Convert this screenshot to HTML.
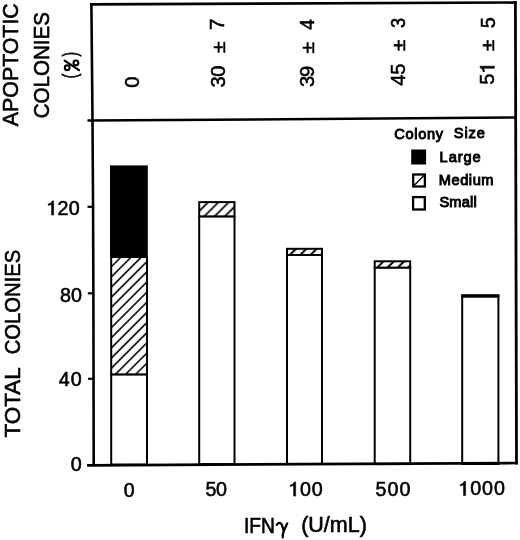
<!DOCTYPE html>
<html><head><meta charset="utf-8">
<style>
html,body{margin:0;padding:0;background:#fff;width:520px;height:540px;overflow:hidden}
svg{display:block;filter:grayscale(1)}
text{font-family:"Liberation Sans",sans-serif;fill:#000}
</style></head>
<body>
<svg width="520" height="540" viewBox="0 0 520 540">
<defs>
<pattern id="h0" patternUnits="userSpaceOnUse" width="7.1771" height="20" patternTransform="rotate(45)"><rect x="1.028" y="0" width="1.55" height="20" fill="#000"/></pattern>
<pattern id="h1" patternUnits="userSpaceOnUse" width="7.2832" height="20" patternTransform="rotate(45)"><rect x="5.231" y="0" width="1.7" height="20" fill="#000"/></pattern>
<pattern id="h2" patternUnits="userSpaceOnUse" width="7.2832" height="20" patternTransform="rotate(45)"><rect x="5.576" y="0" width="2.0" height="20" fill="#000"/><rect x="-1.707" y="0" width="2.0" height="20" fill="#000"/></pattern>
<pattern id="h3" patternUnits="userSpaceOnUse" width="7.2832" height="20" patternTransform="rotate(45)"><rect x="3.384" y="0" width="2.0" height="20" fill="#000"/></pattern>
</defs>
<rect width="520" height="540" fill="#fff"/>

<!-- bars -->
<g stroke="#000" stroke-width="2">
<!-- bar 0 -->
<rect x="111.2" y="257" width="35.8" height="117.6" fill="url(#h0)"/>
<rect x="111.2" y="374.6" width="35.8" height="90" fill="#fff"/>
<rect x="110.0" y="165.4" width="37.8" height="91.7" fill="#000" stroke="none"/>
<!-- bar 50 -->
<rect x="199.2" y="202.1" width="35.3" height="14.5" fill="url(#h1)"/>
<rect x="199.2" y="216.6" width="35.3" height="247.5" fill="#fff"/>
<!-- bar 100 -->
<rect x="287" y="248.8" width="35" height="6.2" fill="url(#h2)"/>
<rect x="287" y="255" width="35" height="209" fill="#fff"/>
<!-- bar 500 -->
<rect x="374.7" y="261.3" width="35.5" height="6.5" fill="url(#h3)"/>
<rect x="374.7" y="267.8" width="35.5" height="196.3" fill="#fff"/>
<!-- bar 1000 -->
<rect x="462.2" y="296" width="36.2" height="168" fill="#fff"/>
</g>
<rect x="461.2" y="294.2" width="38.2" height="3.5" fill="#000"/>

<!-- frame -->
<g stroke="#000" fill="none" stroke-linecap="square">
<polyline points="91.4,4.6 92.5,120 93.05,207 93.4,300 93.7,465" stroke-width="2.6" stroke-linejoin="round"/>
<line x1="91.3" y1="4.4" x2="515.4" y2="2.5" stroke-width="2.7"/>
<line x1="515.4" y1="2.5" x2="516.5" y2="463" stroke-width="2.8"/>
<line x1="88.5" y1="465.3" x2="516.5" y2="463" stroke-width="2.7"/>
<line x1="87.5" y1="120.6" x2="515.5" y2="117.5" stroke-width="2.5" stroke-linecap="butt"/>
<line x1="87.5" y1="206.8" x2="93" y2="206.8" stroke-width="2.2" stroke-linecap="butt"/>
<line x1="87.8" y1="293.3" x2="93.3" y2="293.3" stroke-width="2.2" stroke-linecap="butt"/>
<line x1="88" y1="378.8" x2="93.5" y2="378.8" stroke-width="2.2" stroke-linecap="butt"/>
</g>


<g transform="translate(46.20,215.04)"><text x="0.00 11.26 22.52" y="0" font-size="19.7" stroke="#000" stroke-width="0.55"> 20</text><path transform="translate(0.00,0) scale(19.7)" d="M0.378,0 L0.378,-0.716 L0.300,-0.716 C0.285,-0.660 0.250,-0.610 0.190,-0.585 C0.160,-0.573 0.130,-0.566 0.105,-0.563 L0.105,-0.490 C0.160,-0.495 0.225,-0.510 0.272,-0.548 L0.272,0 Z" fill="#000" stroke="#000" stroke-width="0.0279" stroke-linejoin="round"/></g>
<g transform="translate(59.90,302.30)"><text x="0.00 11.18" y="0" font-size="19.7" stroke="#000" stroke-width="0.55">80</text></g>
<g transform="translate(58.82,386.22)"><text x="0.00 11.98" y="0" font-size="19.7" stroke="#000" stroke-width="0.55">40</text></g>
<text transform="translate(70.64,471.46)" font-size="19.7" stroke="#000" stroke-width="0.55" textLength="11.00" lengthAdjust="spacingAndGlyphs">0</text>
<text transform="translate(123.74,496.66)" font-size="19.7" stroke="#000" stroke-width="0.55" textLength="10.84" lengthAdjust="spacingAndGlyphs">0</text>
<g transform="translate(205.58,496.26)"><text x="0.00 10.54" y="0" font-size="19.7" stroke="#000" stroke-width="0.55">50</text></g>
<g transform="translate(288.24,496.10)"><text x="0.00 11.74 23.48" y="0" font-size="19.7" stroke="#000" stroke-width="0.55"> 00</text><path transform="translate(0.00,0) scale(19.7)" d="M0.378,0 L0.378,-0.716 L0.300,-0.716 C0.285,-0.660 0.250,-0.610 0.190,-0.585 C0.160,-0.573 0.130,-0.566 0.105,-0.563 L0.105,-0.490 C0.160,-0.495 0.225,-0.510 0.272,-0.548 L0.272,0 Z" fill="#000" stroke="#000" stroke-width="0.0279" stroke-linejoin="round"/></g>
<g transform="translate(375.60,495.98)"><text x="0.00 11.90 23.80" y="0" font-size="19.7" stroke="#000" stroke-width="0.55">500</text></g>
<g transform="translate(458.16,495.48)"><text x="0.00 11.98 23.96 35.94" y="0" font-size="19.7" stroke="#000" stroke-width="0.55"> 000</text><path transform="translate(0.00,0) scale(19.7)" d="M0.378,0 L0.378,-0.716 L0.300,-0.716 C0.285,-0.660 0.250,-0.610 0.190,-0.585 C0.160,-0.573 0.130,-0.566 0.105,-0.563 L0.105,-0.490 C0.160,-0.495 0.225,-0.510 0.272,-0.548 L0.272,0 Z" fill="#000" stroke="#000" stroke-width="0.0279" stroke-linejoin="round"/></g>
<text transform="translate(243.88,533.48)" font-size="21.5" stroke="#000" stroke-width="0.6" textLength="30.98" lengthAdjust="spacingAndGlyphs">IFN</text>
<text transform="translate(301.20,532.20)" font-size="21.5" stroke="#000" stroke-width="0.6" textLength="65.60" lengthAdjust="spacingAndGlyphs">(U/mL)</text>
<text transform="translate(19.92,437.42) rotate(-90)" font-size="22.2" stroke="#000" stroke-width="0.6" textLength="70.16" lengthAdjust="spacingAndGlyphs">TOTAL</text>
<text transform="translate(19.92,354.34) rotate(-90)" font-size="22.2" stroke="#000" stroke-width="0.6" textLength="104.68" lengthAdjust="spacingAndGlyphs">COLONIES</text>
<text transform="translate(17.68,126.14) rotate(-90)" font-size="22.8" stroke="#000" stroke-width="0.6" textLength="122.88" lengthAdjust="spacingAndGlyphs">APOPTOTIC</text>
<text transform="translate(48.76,118.34) rotate(-90)" font-size="22.8" stroke="#000" stroke-width="0.6" textLength="106.28" lengthAdjust="spacingAndGlyphs">COLONIES</text>
<text transform="translate(77.12,78.28) rotate(-90)" font-size="19.5" stroke="#000" stroke-width="0.85" textLength="4.46" lengthAdjust="spacingAndGlyphs">(</text>
<text transform="translate(76.52,56.36) rotate(-90)" font-size="19.5" stroke="#000" stroke-width="0.85" textLength="4.14" lengthAdjust="spacingAndGlyphs">)</text>
<text transform="translate(139.18,87.70) rotate(-90)" font-size="20.1" stroke="#000" stroke-width="0.55" textLength="11.34" lengthAdjust="spacingAndGlyphs">0</text>
<g transform="translate(224.66,87.40) rotate(-90)"><text x="0.00 10.70" y="0" font-size="20.1" stroke="#000" stroke-width="0.55">30</text></g>
<text transform="translate(224.66,53.00) rotate(-90)" font-size="18.3" stroke="#000" stroke-width="0.55" textLength="11.50" lengthAdjust="spacingAndGlyphs">&#177;</text>
<text transform="translate(224.26,30.12) rotate(-90)" font-size="20.1" stroke="#000" stroke-width="0.55" textLength="11.48" lengthAdjust="spacingAndGlyphs">7</text>
<g transform="translate(313.92,86.94) rotate(-90)"><text x="0.00 10.06" y="0" font-size="20.1" stroke="#000" stroke-width="0.55">39</text></g>
<text transform="translate(313.60,53.50) rotate(-90)" font-size="18.3" stroke="#000" stroke-width="0.55" textLength="11.50" lengthAdjust="spacingAndGlyphs">&#177;</text>
<text transform="translate(313.52,29.68) rotate(-90)" font-size="20.1" stroke="#000" stroke-width="0.55" textLength="10.52" lengthAdjust="spacingAndGlyphs">4</text>
<g transform="translate(404.76,85.86) rotate(-90)"><text x="0.00 11.18" y="0" font-size="20.1" stroke="#000" stroke-width="0.55">45</text></g>
<text transform="translate(404.84,50.96) rotate(-90)" font-size="18.3" stroke="#000" stroke-width="0.55" textLength="11.34" lengthAdjust="spacingAndGlyphs">&#177;</text>
<text transform="translate(404.92,27.92) rotate(-90)" font-size="20.1" stroke="#000" stroke-width="0.55" textLength="10.04" lengthAdjust="spacingAndGlyphs">3</text>
<g transform="translate(494.42,84.78) rotate(-90)"><text x="0.00 11.02" y="0" font-size="20.1" stroke="#000" stroke-width="0.55">5 </text><path transform="translate(11.02,0) scale(20.1)" d="M0.378,0 L0.378,-0.716 L0.300,-0.716 C0.285,-0.660 0.250,-0.610 0.190,-0.585 C0.160,-0.573 0.130,-0.566 0.105,-0.563 L0.105,-0.490 C0.160,-0.495 0.225,-0.510 0.272,-0.548 L0.272,0 Z" fill="#000" stroke="#000" stroke-width="0.0274" stroke-linejoin="round"/></g>
<text transform="translate(493.70,50.96) rotate(-90)" font-size="18.3" stroke="#000" stroke-width="0.55" textLength="11.34" lengthAdjust="spacingAndGlyphs">&#177;</text>
<text transform="translate(494.74,28.24) rotate(-90)" font-size="20.1" stroke="#000" stroke-width="0.55" textLength="11.00" lengthAdjust="spacingAndGlyphs">5</text>
<text transform="translate(394.26,139.24)" font-size="14.6" stroke="#000" stroke-width="0.95" textLength="48.88" lengthAdjust="spacing">Colony</text>
<text transform="translate(453.82,138.44)" font-size="14.6" stroke="#000" stroke-width="0.95" textLength="30.96" lengthAdjust="spacing">Size</text>
<text transform="translate(439.58,161.52)" font-size="14.6" stroke="#000" stroke-width="0.95" textLength="41.16" lengthAdjust="spacing">Large</text>
<text transform="translate(438.84,184.96)" font-size="14.6" stroke="#000" stroke-width="0.95" textLength="54.64" lengthAdjust="spacing">Medium</text>
<text transform="translate(439.38,207.00)" font-size="14.6" stroke="#000" stroke-width="0.95" textLength="37.48" lengthAdjust="spacing">Small</text>
<g stroke="#000" fill="none" stroke-width="2.3" stroke-linecap="round" stroke-linejoin="round">
<path d="M276.8,524.9 C277.6,523 279.6,522.3 281,523.6 C282.2,524.8 283,528 283.7,531"/>
<path d="M287.2,523.4 L283.6,531.6 C282.9,533.4 282.5,535.5 282.8,537.4"/>
</g>
<g stroke="#000" fill="none" stroke-width="2.1">
<line x1="64.6" y1="60.6" x2="79" y2="70.2" stroke-linecap="round"/>
<circle cx="75.9" cy="62.9" r="2.4"/>
<circle cx="67.2" cy="67.7" r="2.4"/>
</g>
<rect x="411.2" y="149.5" width="14.9" height="15" fill="#000"/>
<rect x="413.2" y="174.5" width="11.7" height="12" fill="#fff" stroke="#000" stroke-width="2.3"/>
<line x1="413.5" y1="186" x2="424.5" y2="175" stroke="#000" stroke-width="1.5"/>
<rect x="413.1" y="197.1" width="11.7" height="12.4" fill="#fff" stroke="#000" stroke-width="2.3"/>
</svg>
</body></html>
